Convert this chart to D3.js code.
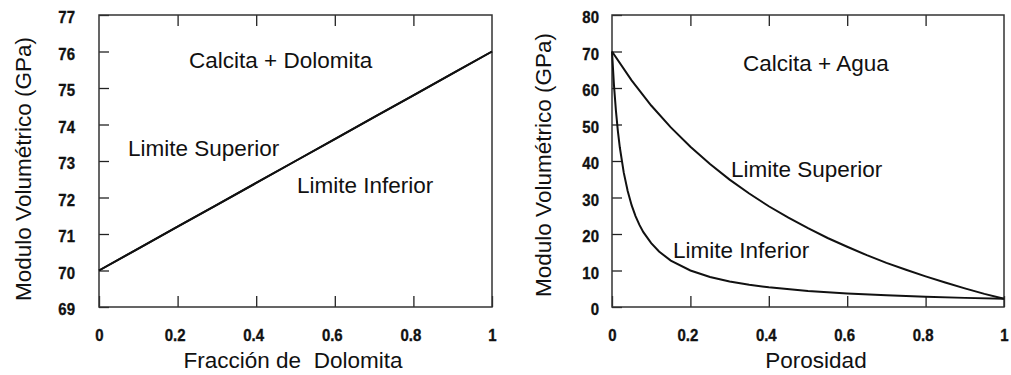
<!DOCTYPE html>
<html>
<head>
<meta charset="utf-8">
<script src="https://cdn.jsdelivr.net/npm/d3@7"></script>
<style>
  html, body { margin: 0; padding: 0; background: #fff; }
  svg { display: block; }
  .tick text { font-family: "Liberation Sans", Arial, sans-serif; font-weight: bold; font-size: 17px; fill: #111; stroke: #111; stroke-width: 0.35px; }
  .title { font-family: "Liberation Sans", Arial, sans-serif; font-size: 22.5px; fill: #111; white-space: pre; }
  .note { font-family: "Liberation Sans", Arial, sans-serif; font-size: 22.5px; fill: #111; }
</style>
</head>
<body>
<svg id="chart" width="1011" height="375"></svg>
<script>
// Left panel: calcite + dolomite mixture (bounds coincide)
const dolomiteFraction = [0, 0.1, 0.2, 0.3, 0.4, 0.5, 0.6, 0.7, 0.8, 0.9, 1.0];
const mixUpper = [70.0, 70.6, 71.2, 71.8, 72.4, 73.0, 73.6, 74.2, 74.8, 75.4, 76.0];
const mixLower = [70.0, 70.6, 71.2, 71.8, 72.4, 73.0, 73.6, 74.2, 74.8, 75.4, 76.0];

// Right panel: calcite + water
const porosityUpper = [0, 0.05, 0.1, 0.15, 0.2, 0.25, 0.3, 0.35, 0.4, 0.45, 0.5, 0.55, 0.6, 0.65, 0.7, 0.75, 0.8, 0.85, 0.9, 0.95, 1.0];
const waterUpper = [70.0, 62.1, 55.2, 49.2, 43.9, 39.2, 34.9, 31.1, 27.6, 24.5, 21.6, 18.9, 16.5, 14.2, 12.1, 10.2, 8.4, 6.7, 5.1, 3.6, 2.25];
const porosityLower = [0, 0.005, 0.01, 0.015, 0.02, 0.03, 0.04, 0.05, 0.06, 0.07, 0.08, 0.1, 0.12, 0.15, 0.2, 0.25, 0.3, 0.35, 0.4, 0.5, 0.6, 0.7, 0.8, 0.9, 1.0];
const waterLower = [70.0, 60.8, 53.8, 48.2, 43.7, 36.8, 31.8, 27.9, 24.9, 22.5, 20.5, 17.5, 15.2, 12.7, 10.0, 8.2, 7.0, 6.1, 5.4, 4.4, 3.7, 3.2, 2.8, 2.5, 2.25];

// Tick labels
const xTicks = [0, 0.2, 0.4, 0.6, 0.8, 1];
const xTickLabels = ["0", "0.2", "0.4", "0.6", "0.8", "1"];
const leftYTicks = [69, 70, 71, 72, 73, 74, 75, 76, 77];
const rightYTicks = [0, 10, 20, 30, 40, 50, 60, 70, 80];

const svg = d3.select("#chart");

// narrow the bold tick numerals horizontally, keeping their anchor point
function narrow(sel, dx, dy) {
  sel.each(function () {
    const t = d3.select(this);
    const tx = +t.attr("x") || 0, ty = +t.attr("y") || 0;
    t.attr("x", null).attr("y", null)
      .attr("transform", `translate(${tx + dx},${ty + dy}) scale(0.88,1)`);
  });
}

function panel(opts) {
  const { x0, x1, y0, y1, yDomain, yTicks, yPad, series, xTitle, xTitleX, yTitleX, yTitleY, notes } = opts;
  const x = d3.scaleLinear().domain([0, 1]).range([x0, x1]);
  const y = d3.scaleLinear().domain(yDomain).range([y1, y0]);
  const g = svg.append("g");

  // left axis, ticks pointing inward
  const ya = g.append("g").attr("transform", `translate(${x0},0)`)
    .call(d3.axisLeft(y).tickValues(yTicks).tickFormat(d3.format("d")).tickSizeInner(-10).tickSizeOuter(0).tickPadding(yPad));
  ya.select(".domain").remove();
  ya.selectAll(".tick line").attr("stroke", "#222").attr("stroke-width", 1.3);
  ya.selectAll(".tick text").attr("dy", "0.45em");
  narrow(ya.selectAll(".tick text"), 0, 0);

  // bottom axis
  const xa = g.append("g").attr("transform", `translate(0,${y1})`)
    .call(d3.axisBottom(x).tickValues(xTicks).tickFormat((d, i) => xTickLabels[i]).tickSizeInner(-11).tickSizeOuter(0).tickPadding(22));
  xa.select(".domain").remove();
  xa.selectAll(".tick line").attr("stroke", "#222").attr("stroke-width", 1.3);
  xa.selectAll(".tick text").each(function (d, i) {
    narrow(d3.select(this), xTickLabels[i].includes(".") ? -3 : 0, 0);
  });

  // mirrored ticks along the top
  const ta = g.append("g").attr("transform", `translate(0,${y0})`)
    .call(d3.axisTop(x).tickValues(xTicks.slice(1, -1)).tickFormat("").tickSizeInner(-11).tickSizeOuter(0));
  ta.select(".domain").remove();
  ta.selectAll(".tick line").attr("stroke", "#222").attr("stroke-width", 1.3);

  // frame
  g.append("rect").attr("x", x0).attr("y", y0).attr("width", x1 - x0).attr("height", y1 - y0)
    .attr("fill", "none").attr("stroke", "#333").attr("stroke-width", 1.5);

  // curves
  const line = d3.line().x(d => x(d[0])).y(d => y(d[1]));
  series.forEach(s => {
    g.append("path").datum(d3.zip(s.xs, s.ys)).attr("d", line)
      .attr("fill", "none").attr("stroke", "#111").attr("stroke-width", 2);
  });

  // axis titles
  g.append("text").attr("class", "title").attr("x", xTitleX).attr("y", 368)
    .attr("text-anchor", "middle").text(xTitle);
  g.append("text").attr("class", "title")
    .attr("transform", `translate(${yTitleX},${yTitleY}) rotate(-90)`)
    .attr("text-anchor", "middle").text("Modulo Volumétrico (GPa)");

  // annotations
  notes.forEach(n => {
    g.append("text").attr("class", "note").attr("x", n.x).attr("y", n.y).text(n.t);
  });
}

panel({
  x0: 99, x1: 492, y0: 15, y1: 307,
  yDomain: [69, 77], yTicks: leftYTicks, yPad: 24,
  series: [{ xs: dolomiteFraction, ys: mixUpper }, { xs: dolomiteFraction, ys: mixLower }],
  xTitle: "Fracción de  Dolomita", xTitleX: 293,
  yTitleX: 31, yTitleY: 169,
  notes: [
    { t: "Calcita + Dolomita", x: 189, y: 68 },
    { t: "Limite Superior", x: 128, y: 156 },
    { t: "Limite Inferior", x: 297, y: 193 }
  ]
});

panel({
  x0: 612, x1: 1004, y0: 15, y1: 307,
  yDomain: [0, 80], yTicks: rightYTicks, yPad: 13,
  series: [{ xs: porosityUpper, ys: waterUpper }, { xs: porosityLower, ys: waterLower }],
  xTitle: "Porosidad", xTitleX: 816,
  yTitleX: 551, yTitleY: 165,
  notes: [
    { t: "Calcita + Agua", x: 743, y: 71 },
    { t: "Limite Superior", x: 731, y: 177 },
    { t: "Limite Inferior", x: 673, y: 258 }
  ]
});
</script>
</body>
</html>
